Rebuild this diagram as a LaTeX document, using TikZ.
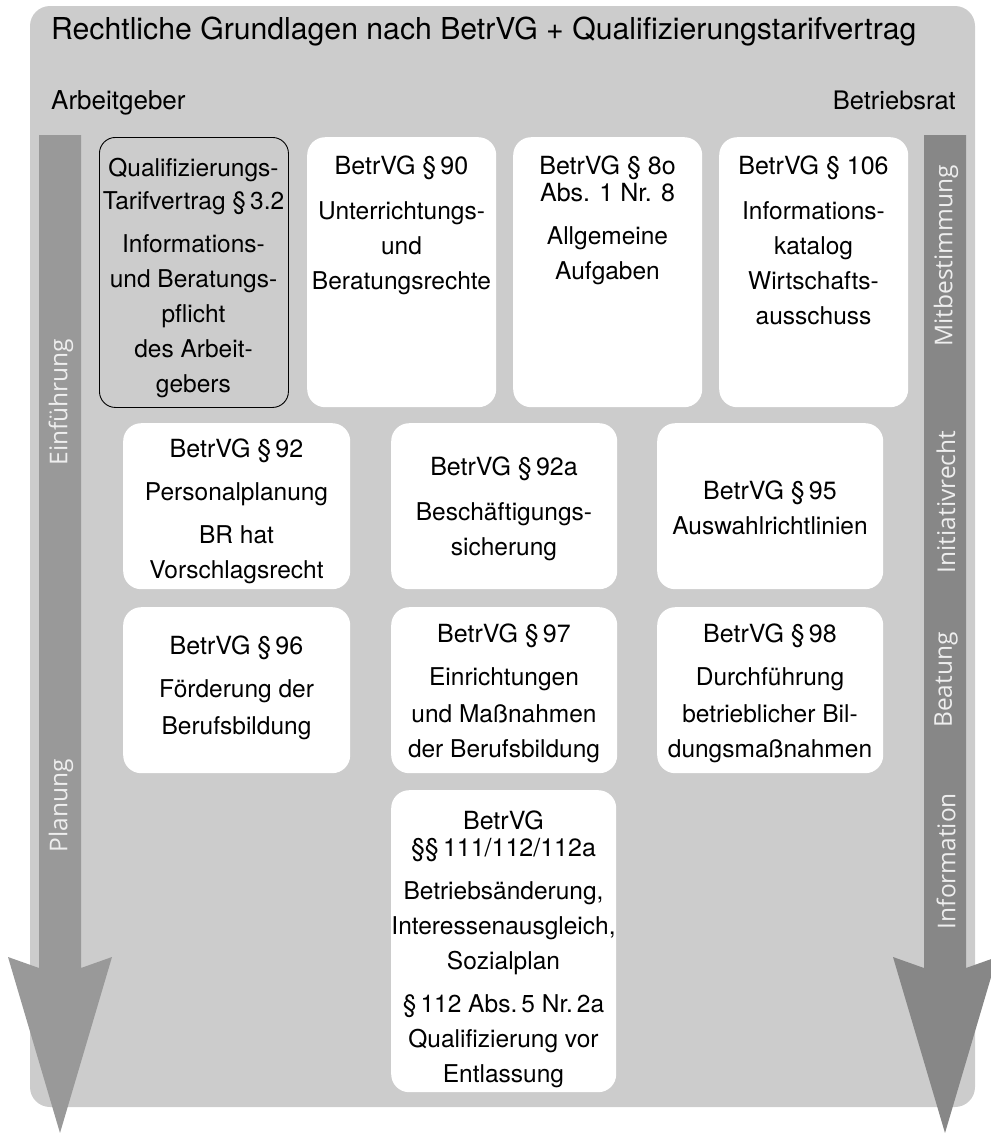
\documentclass[tikz,border=0pt]{standalone}
\usepackage{fontspec}
\setmainfont{TeX Gyre Heros}
\newfontfamily\shaftfont{Open Sans}
\definecolor{bg}{HTML}{CCCCCC}
\definecolor{lshaft}{HTML}{999999}
\definecolor{rshaft}{HTML}{878787}
\definecolor{shafttext}{HTML}{EEEEEE}
\newcommand{\hdr}{\fontsize{25}{35}\selectfont}
\begin{document}
\begin{tikzpicture}[x=1pt,y=-1pt,
  wbox/.style={fill=white, draw=none, rounded corners=18pt, inner sep=0pt, anchor=north west},
  gbox/.style={fill=bg, draw=black, line width=0.9pt, rounded corners=16pt, inner sep=0pt, anchor=north west},
  body/.style={align=center, inner sep=0pt, anchor=north, font=\fontsize{24.5}{35}\selectfont},
  shaftlbl/.style={rotate=90, inner sep=0pt, text=shafttext, font=\shaftfont\fontsize{24.5}{28}\selectfont},
  toplbl/.style={inner sep=0pt, anchor=base west}]
\useasboundingbox (0,0) rectangle (991,1133);
% background panel
\fill[bg, rounded corners=20pt] (30,6) rectangle (975,1107);
\node[toplbl, font=\fontsize{30.2}{34}\selectfont] (title) at (51,39) {Rechtliche Grundlagen nach BetrVG + Qualifizierungstarifvertrag};
\node[toplbl, font=\fontsize{26}{30}\selectfont] (ag) at (51,109) {Arbeitgeber};
\node[inner sep=0pt, anchor=base east, font=\fontsize{25.5}{30}\selectfont] (br) at (956,109) {Betriebsrat};
% arrows
\fill[lshaft] (39,135) -- (81,135) -- (81,968) -- (112,957) -- (60,1133) -- (8,957) -- (39,968) -- cycle;
\fill[rshaft] (924,135) -- (966,135) -- (966,968) -- (997,957) -- (945,1133) -- (893,957) -- (924,968) -- cycle;
\node[shaftlbl] (einf) at (61,402) {Einführung};
\node[shaftlbl] (plan) at (61,806) {Planung};
\node[shaftlbl] (mitb) at (946,256) {Mitbestimmung};
\node[shaftlbl] (init) at (946,502) {Initiativrecht};
\node[shaftlbl] (beat) at (946,680) {Beatung};
\node[shaftlbl] (info) at (946,861) {Information};
% row 1
\node[gbox, minimum width=189pt, minimum height=270pt] (qtv) at (99,137) {};
\node[body] (qtvt) at (193.5,158) {Qualifizierungs-\\[-2pt]Tarifvertrag §\,3.2\\[8pt]Informations-\\und Beratungs-\\pflicht\\des Arbeit-\\gebers};
\node[wbox, minimum width=189pt, minimum height=270pt] (b90) at (307,137) {};
\node[body] (b90t) at (401.5,156) {{\hdr BetrVG §\,90}\\[10pt]Unterrichtungs-\\und\\Beratungsrechte};
\node[wbox, minimum width=189pt, minimum height=270pt] (b80) at (513,137) {};
\node[body] (b80t) at (607.5,156) {{\hdr BetrVG § 8o}\\[-8pt]{\hdr Abs. 1 Nr. 8}\\[8pt]Allgemeine\\Aufgaben};
\node[wbox, minimum width=189pt, minimum height=270pt] (b106) at (719,137) {};
\node[body] (b106t) at (813.5,156) {{\hdr BetrVG § 106}\\[10pt]Informations-\\katalog\\Wirtschafts-\\ausschuss};
% row 2
\node[wbox, minimum width=227pt, minimum height=166pt] (b92) at (123,423) {};
\node[body] (b92t) at (236.5,439) {{\hdr BetrVG §\,92}\\[8pt]Personalplanung\\[8pt]BR hat\\Vorschlagsrecht};
\node[wbox, minimum width=226pt, minimum height=166pt] (b92a) at (391,423) {};
\node[body] (b92at) at (504,457) {{\hdr BetrVG §\,92a}\\[10pt]Beschäftigungs-\\sicherung};
\node[wbox, minimum width=226pt, minimum height=166pt] (b95) at (657,423) {};
\node[body] (b95t) at (770,480.5) {{\hdr BetrVG §\,95}\\Auswahlrichtlinien};
% row 3
\node[wbox, minimum width=227pt, minimum height=166pt] (b96) at (123,607) {};
\node[body] (b96t) at (236.5,635.5) {{\hdr BetrVG §\,96}\\[8pt]Förderung der\\[2pt]Berufsbildung};
\node[wbox, minimum width=226pt, minimum height=166pt] (b97) at (391,607) {};
\node[body] (b97t) at (504,624) {{\hdr BetrVG §\,97}\\[8pt]Einrichtungen\\[2pt]und Maßnahmen\\der Berufsbildung};
\node[wbox, minimum width=226pt, minimum height=166pt] (b98) at (657,607) {};
\node[body] (b98t) at (770,624) {{\hdr BetrVG §\,98}\\[8pt]Durchführung\\[2pt]betrieblicher Bil-\\dungsmaßnahmen};
% row 4
\node[wbox, minimum width=225pt, minimum height=302pt] (b111) at (391,790) {};
\node[body] (b111t) at (503.5,810.5) {{\hdr BetrVG}\\[-8pt]{\hdr §§\,111/112/112a}\\[8pt]Betriebsänderung,\\Interessenausgleich,\\Sozialplan\\[8pt]§\,112 Abs.\,5 Nr.\,2a\\Qualifizierung vor\\Entlassung};
\end{tikzpicture}
\end{document}
